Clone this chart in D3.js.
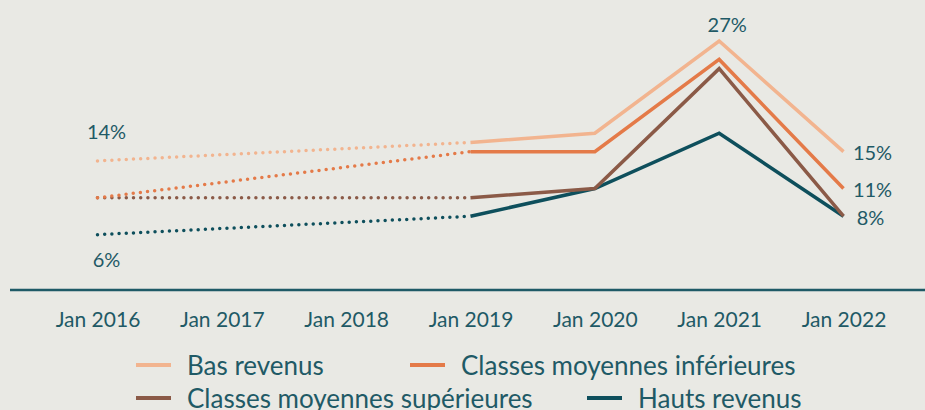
<!DOCTYPE html>
<html><head><meta charset="utf-8">
<script src="https://cdn.jsdelivr.net/npm/d3@7"></script>
<style>html,body{margin:0;padding:0;background:#e9e9e4;} svg{display:block;font-family:Lato,"Noto Sans",sans-serif;}</style>
</head><body><svg id="c" width="925" height="410"></svg>
<script>
// ---- data ----
const categories = ["Jan 2016","Jan 2017","Jan 2018","Jan 2019","Jan 2020","Jan 2021","Jan 2022"];
const seriesNames = ["Bas revenus","Classes moyennes inférieures","Classes moyennes supérieures","Hauts revenus"];
const basRevenus         = [14, null, null, 16, 17, 27, 15];
const classesMoyInf      = [10, null, null, 15, 15, 25, 11];
const classesMoySup      = [10, null, null, 10, 11, 24, 8];
const hautsRevenus       = [6,  null, null, 8,  11, 17, 8];
const seriesColors = ["#f2b48f","#e47a48","#8b5a47","#0e4f5c"];
// dotted part ends at this category index, solid starts there
const splitIndex = 3;

const allSeries = [basRevenus, classesMoyInf, classesMoySup, hautsRevenus];
const textColor = "#1f5a66";

const svg = d3.select("#c");
const x = d3.scalePoint().domain(categories).range([97.5, 843.5]);
const y = d3.scaleLinear().domain([0, 27]).range([290, 41]);

// axis
const axis = d3.axisBottom(x).tickSize(0).tickPadding(0);
const gAxis = svg.append("g").attr("transform", "translate(0,290)").call(axis);
gAxis.select(".domain").remove();
gAxis.selectAll("text").attr("y", 37).attr("dy", null)
  .attr("fill", textColor).style("font-size", "21px").style("font-family", "Lato");
svg.append("line").attr("x1", 10).attr("x2", 925).attr("y1", 290).attr("y2", 290)
  .attr("stroke", textColor).attr("stroke-width", 2.5);

const line = d3.line()
  .defined(d => d.v != null)
  .x(d => x(d.c)).y(d => y(d.v));

const order = [3, 2, 1, 0];
order.forEach(si => {
  const vals = allSeries[si];
  const pts = categories.map((c, i) => ({c, v: vals[i], i}));
  const dotted = pts.filter(p => p.i <= splitIndex && p.v != null);
  const solid = pts.filter(p => p.i >= splitIndex);
  svg.append("path").datum(dotted).attr("d", line)
    .attr("fill", "none").attr("stroke", seriesColors[si]).attr("stroke-width", 3.5)
    .attr("stroke-linecap", "round").attr("stroke-dasharray", "0 7.2");
  svg.append("path").datum(solid).attr("d", line)
    .attr("fill", "none").attr("stroke", seriesColors[si]).attr("stroke-width", 3.5)
    .attr("stroke-linejoin", "miter");
});

const fmt = v => v + "%";
const labelFont = "20px";
function addLabel(si, ci, dx, dy, anchor, baseline) {
  const v = allSeries[si][ci];
  svg.append("text").attr("x", x(categories[ci]) + dx).attr("y", y(v) + dy)
    .attr("text-anchor", anchor).attr("dominant-baseline", baseline)
    .attr("fill", textColor).style("font-size", labelFont).text(fmt(v));
}
addLabel(0, 0, 9, -22, "middle", "auto");       // 14%
addLabel(3, 0, 9, 32, "middle", "auto");        // 6%
addLabel(0, 5, 8, -9, "middle", "auto");        // 27%
addLabel(0, 6, 29, 0, "middle", "central");     // 15%
addLabel(1, 6, 29, 0, "middle", "central");     // 11%
addLabel(2, 6, 27, 1, "middle", "central");     // 8%

// legend
const legendPos = [[136, 365], [410, 365], [136, 398], [587, 398]];
seriesNames.forEach((name, i) => {
  const [lx, ly] = legendPos[i];
  svg.append("line").attr("x1", lx).attr("x2", lx + 35).attr("y1", ly).attr("y2", ly)
    .attr("stroke", seriesColors[i]).attr("stroke-width", 4);
  svg.append("text").attr("x", lx + 51).attr("y", ly).attr("dominant-baseline", "central")
    .attr("fill", textColor).style("font-size", "26px").text(name);
});
</script></body></html>
